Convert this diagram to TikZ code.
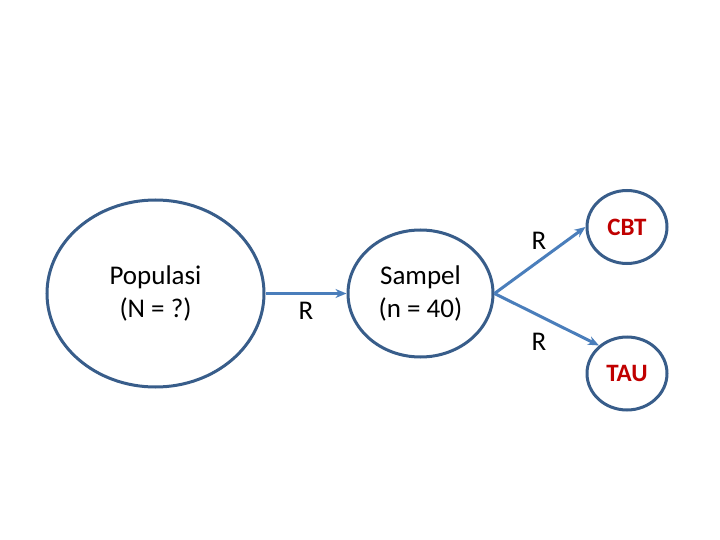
\documentclass[tikz,border=0pt]{standalone}
\usepackage{fontspec}
\setmainfont{Carlito}
\usetikzlibrary{arrows.meta,shapes.geometric,positioning}
\definecolor{lineblue}{HTML}{385D8A}
\definecolor{arrowblue}{HTML}{4A7EBB}
\definecolor{textred}{HTML}{C00000}

\begin{document}
\begin{tikzpicture}[x=1pt,y=-1pt,>={Stealth[length=11pt,width=9pt]},
  blob/.style={ellipse,draw=lineblue,line width=3pt,inner sep=0pt,align=center,font=\fontsize{27}{33}\selectfont},
  small/.style={blob,minimum width=80pt,minimum height=73pt,text=textred,font=\fontsize{25}{28}\selectfont\bfseries},
  arr/.style={->,draw=arrowblue,line width=3pt},
  lab/.style={font=\fontsize{27}{30}\selectfont}]
\useasboundingbox (0,0) rectangle (720,540);
\node[blob,minimum width=217pt,minimum height=187pt] (pop) at (155.5,293.5) {Populasi\\(N = ?)};
\node[blob,minimum width=145pt,minimum height=127pt] (sam) at (420.5,293.5) {Sampel\\(n = 40)};
\node[small] (cbt) at (627,227) {CBT};
\node[small] (tau) at (627,373.5) {TAU};
\draw[arr] (pop.east) -- (sam.west);
\draw[arr] (sam.east) -- (cbt.west);
\draw[arr] (sam.east) -- (tau.135);
\node[lab] (r1) at (306,311) {R};
\node[lab] (r2) at (539,241) {R};
\node[lab] (r3) at (539,342) {R};
\end{tikzpicture}
\end{document}
